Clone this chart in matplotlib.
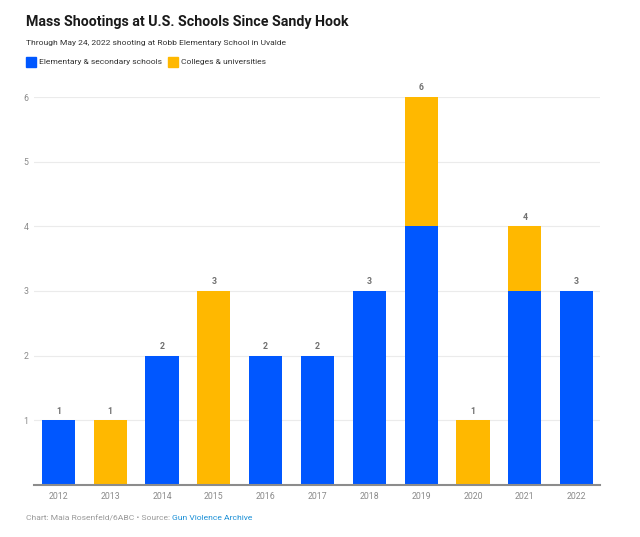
import matplotlib.pyplot as plt
import numpy as np

years = ['2012', '2013', '2014', '2015', '2016', '2017', '2018', '2019', '2020', '2021', '2022']
elementary = [1, 0, 2, 0, 2, 2, 3, 4, 0, 3, 3]
colleges = [0, 1, 0, 3, 0, 0, 0, 2, 1, 1, 0]

BLUE = '#0057ff'
YELLOW = '#ffb800'
GRAY = '#8a8a8a'

plt.rcParams['font.family'] = ['Roboto', 'DejaVu Sans']

fig = plt.figure(figsize=(6.4, 5.37), dpi=100)
ax = fig.add_axes([34 / 640, 1 - 485 / 537, 566 / 640, 388 / 537])

x = np.arange(len(years))
ax.bar(x, elementary, width=0.64, color=BLUE, zorder=2)
ax.bar(x, colleges, width=0.64, bottom=elementary, color=YELLOW, zorder=2)

totals = [e + c for e, c in zip(elementary, colleges)]
for xi, t in zip(x, totals):
    ax.annotate(str(t), (xi, t), xytext=(0, 6.5), textcoords='offset points',
                ha='center', va='center', fontsize=6.3, color='#707070',
                fontweight='bold', annotation_clip=False)

ax.set_xlim(-0.47, 10.45)
ax.set_ylim(0, 6)
ax.set_xticks(x)
ax.set_xticklabels(years, fontsize=6.3, color=GRAY)
ax.set_yticks(range(1, 7))
ax.set_yticklabels([str(i) for i in range(1, 7)], fontsize=6.3, color=GRAY)
ax.tick_params(axis='both', length=0)
ax.tick_params(axis='y', pad=4)
ax.tick_params(axis='x', pad=5)
ax.grid(axis='y', color='#ebebeb', linewidth=0.8, zorder=0)
for s in ['top', 'right', 'left']:
    ax.spines[s].set_visible(False)
ax.spines['bottom'].set_color('#8c8c8c')
ax.spines['bottom'].set_linewidth(1.5)
ax.spines['bottom'].set_zorder(3)

fig.text(26 / 640, 1 - 22 / 537, 'Mass Shootings at U.S. Schools Since Sandy Hook',
         fontsize=10.2, fontweight='bold', color='#1a1a1a', va='center')
fig.text(26 / 640, 1 - 43 / 537, 'Through May 24, 2022 shooting at Robb Elementary School in Uvalde',
         fontsize=6.1, color='#333333', va='center')

# legend
fig.patches.append(plt.Rectangle((26 / 640, 1 - 67 / 537), 10 / 640, 10 / 537,
                                 transform=fig.transFigure, color=BLUE))
fig.text(39 / 640, 1 - 62 / 537, 'Elementary & secondary schools', fontsize=6.1,
         color='#333333', va='center')
fig.patches.append(plt.Rectangle((168 / 640, 1 - 67 / 537), 10 / 640, 10 / 537,
                                 transform=fig.transFigure, color=YELLOW))
fig.text(181 / 640, 1 - 62 / 537, 'Colleges & universities', fontsize=6.1,
         color='#333333', va='center')

src = fig.text(26 / 640, 1 - 518 / 537, 'Chart: Maia Rosenfeld/6ABC \u2022 Source: ', fontsize=6.1,
               color='#999999', va='center')
ax.annotate('Gun Violence Archive', xy=(1, 0.5), xycoords=src, va='center', ha='left',
            fontsize=6.1, color='#1a8fd6', annotation_clip=False)

fig.savefig('out.png', dpi=100, facecolor='white')
